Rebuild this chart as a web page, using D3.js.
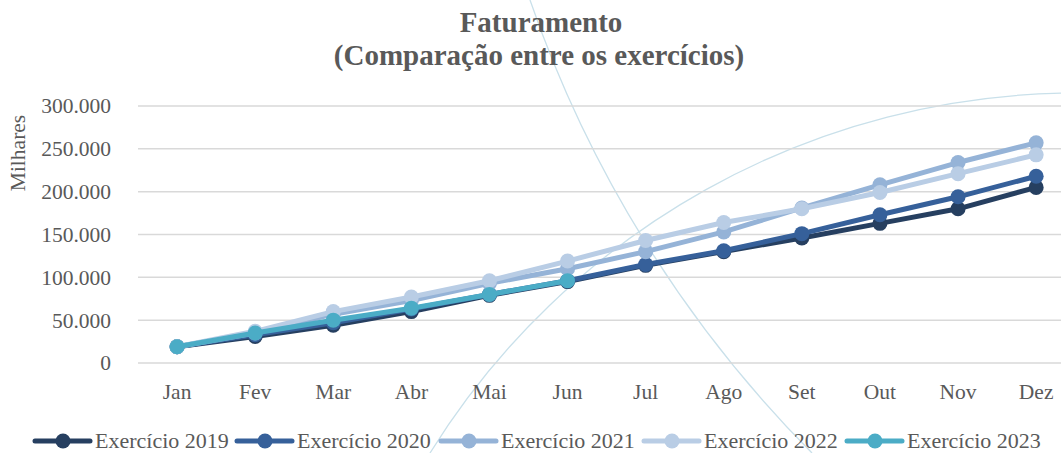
<!DOCTYPE html>
<html>
<head>
<meta charset="utf-8">
<script src="https://cdn.jsdelivr.net/npm/d3@7"></script>
<style>
  html, body { margin: 0; padding: 0; background: #fff; }
  svg { display: block; font-family: "Liberation Serif", "DejaVu Serif", serif; }
</style>
</head>
<body>
<svg id="chart" width="1061" height="453"></svg>
<script>
const months = ["Jan","Fev","Mar","Abr","Mai","Jun","Jul","Ago","Set","Out","Nov","Dez"];
const seriesNames = ["Exercício 2019","Exercício 2020","Exercício 2021","Exercício 2022","Exercício 2023"];
const values2019 = [19000, 31000, 44000, 60000, 79000, 95000, 114000, 130000, 146000, 163000, 180000, 205000];
const values2020 = [19000, 33000, 47000, 63000, 80000, 96000, 115000, 131000, 151000, 173000, 194000, 218000];
const values2021 = [19000, 35000, 57000, 73000, 93000, 110000, 130000, 153000, 181000, 208000, 234000, 257000];
const values2022 = [19000, 37000, 60000, 77000, 96000, 119000, 143000, 164000, 180000, 199000, 221000, 243000];
const values2023 = [19000, 35000, 50000, 64000, 80000, 96000];
const yTicks = [0, 50000, 100000, 150000, 200000, 250000, 300000];
const colors = ["#263f60", "#36609a", "#95b3d7", "#b9cde5", "#4bacc6"];

const allValues = [values2019, values2020, values2021, values2022, values2023];
const series = seriesNames.map((name, i) => ({ name, color: colors[i], values: allValues[i] }));

const svg = d3.select("#chart");
const textColor = "#595959";

// decorative theme arcs
svg.append("path").attr("d", "M530,0 A1197,1197 0 0 0 812,453")
  .attr("fill", "none").attr("stroke", "#c9e0ea").attr("stroke-width", 1.3);
svg.append("path").attr("d", "M430,453 A762,762 0 0 1 1075,93")
  .attr("fill", "none").attr("stroke", "#c9e0ea").attr("stroke-width", 1.3);

const x = d3.scaleBand().domain(months).range([138, 138 + 12 * 78.1]).padding(0);
const y = d3.scaleLinear().domain([0, 300000]).range([363, 106]);
const cx = m => x(m) + x.bandwidth() / 2;

// gridlines
svg.append("g").selectAll("line").data(yTicks).join("line")
  .attr("x1", 138).attr("x2", 1061)
  .attr("y1", d => y(d)).attr("y2", d => y(d))
  .attr("stroke", "#d9d9d9").attr("stroke-width", 1.5);

const fmt = d => d === 0 ? "0" : d3.format(",")(d).replace(/,/g, ".");

// y axis
const yAxis = svg.append("g").attr("transform", "translate(111,0)")
  .call(d3.axisLeft(y).tickValues(yTicks).tickFormat(fmt).tickSize(0).tickPadding(0));
yAxis.select(".domain").remove();
yAxis.selectAll("text").attr("fill", textColor).style("font-size", "21.5px")
  .style("font-family", "Liberation Serif, serif");

// x axis
const xAxis = svg.append("g").attr("transform", "translate(0,376)")
  .call(d3.axisBottom(x).tickSize(0).tickPadding(8));
xAxis.select(".domain").remove();
xAxis.selectAll("text").attr("fill", textColor).style("font-size", "21.5px")
  .style("font-family", "Liberation Serif, serif");

// y axis title
svg.append("text").attr("transform", "translate(25,153) rotate(-90)")
  .attr("text-anchor", "middle").attr("fill", textColor).style("font-size", "21.5px")
  .text("Milhares");

// title
svg.append("text").attr("x", 541).attr("y", 32).attr("text-anchor", "middle")
  .attr("fill", textColor).style("font-size", "29px").style("font-weight", "bold")
  .text("Faturamento");
svg.append("text").attr("x", 539).attr("y", 65).attr("text-anchor", "middle")
  .attr("fill", textColor).style("font-size", "29px").style("font-weight", "bold")
  .text("(Comparação entre os exercícios)");

// lines
const line = d3.line().x((d, i) => cx(months[i])).y(d => y(d));
const gSeries = svg.append("g").selectAll("g").data(series).join("g");
gSeries.append("path")
  .attr("d", d => line(d.values))
  .attr("fill", "none").attr("stroke", d => d.color)
  .attr("stroke-width", 5).attr("stroke-linejoin", "round").attr("stroke-linecap", "round");
gSeries.selectAll("circle").data(d => d.values.map((v, i) => ({ v, i, color: d.color }))).join("circle")
  .attr("cx", d => cx(months[d.i])).attr("cy", d => y(d.v)).attr("r", 7.5)
  .attr("fill", d => d.color);

// legend
const legendStarts = [95, 297, 501, 704, 907];
const lg = svg.append("g").selectAll("g").data(series).join("g")
  .attr("transform", (d, i) => `translate(${legendStarts[i]},441)`);
lg.append("line").attr("x1", -60).attr("x2", -5).attr("y1", 0).attr("y2", 0)
  .attr("stroke", d => d.color).attr("stroke-width", 5).attr("stroke-linecap", "round");
lg.append("circle").attr("cx", -32).attr("cy", 0).attr("r", 7.5).attr("fill", d => d.color);
lg.append("text").attr("x", 0).attr("y", 7).attr("fill", textColor).style("font-size", "22px")
  .text(d => d.name);
</script>
</body>
</html>
